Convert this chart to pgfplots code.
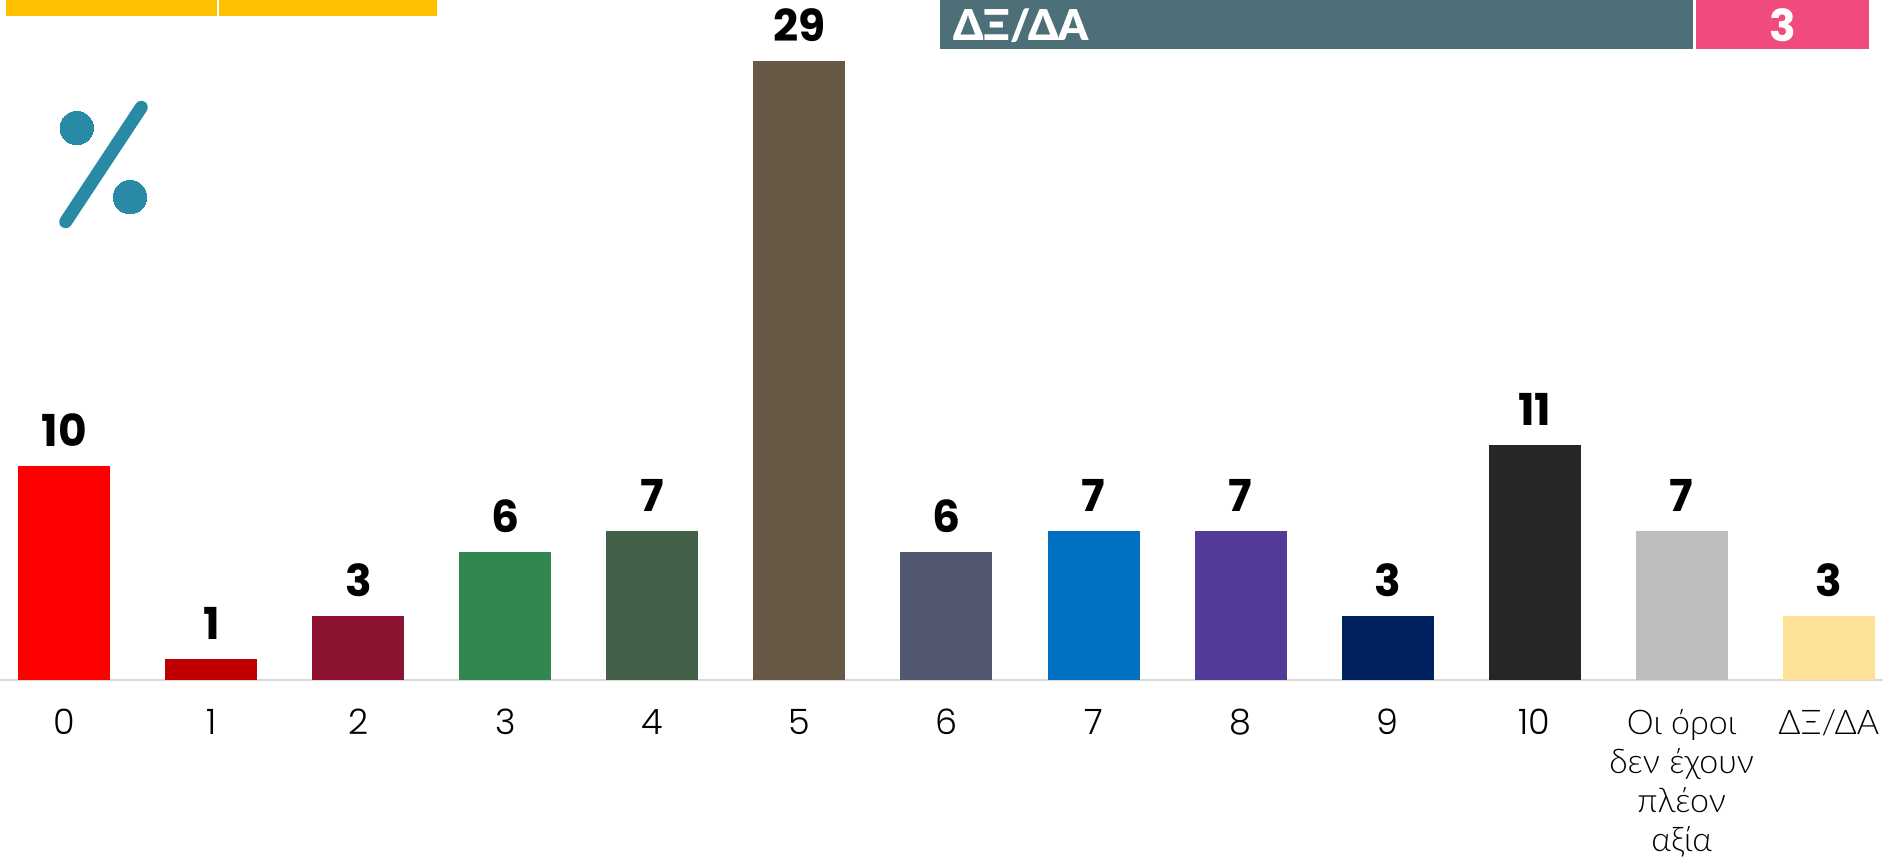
\documentclass[border=0pt]{standalone}
\usepackage{fontspec}
\usepackage{pgfplots}
\pgfplotsset{compat=1.18}
\setmainfont{Lato}
\newfontfamily\popb{Poppins}[UprightFont=* Bold]
\newfontfamily\popl{Poppins}[UprightFont=* Light]
\newfontfamily\latl{Lato}[UprightFont=* Light]
\newfontfamily\latb{Lato}[UprightFont=* Black]
\definecolor{c0}{HTML}{FF0000}
\definecolor{c1}{HTML}{C00000}
\definecolor{c2}{HTML}{8C1430}
\definecolor{c3}{HTML}{328750}
\definecolor{c4}{HTML}{456049}
\definecolor{c5}{HTML}{665A47}
\definecolor{c6}{HTML}{525770}
\definecolor{c7}{HTML}{0070C0}
\definecolor{c8}{HTML}{533998}
\definecolor{c9}{HTML}{002060}
\definecolor{c10}{HTML}{262626}
\definecolor{c11}{HTML}{BDBDBD}
\definecolor{c12}{HTML}{FDE197}
\definecolor{hy}{HTML}{FFC000}
\definecolor{ht}{HTML}{4C6F78}
\definecolor{hp}{HTML}{F14A7C}
\definecolor{pc}{HTML}{288AA5}
\definecolor{axl}{HTML}{D9D9D9}
\pgfplotsset{onebar/.style={ybar,bar shift=0pt,bar width=92pt,draw=none,fill=#1}}
\begin{document}
\begin{tikzpicture}[x=1pt,y=1pt]
\useasboundingbox (0,0) rectangle (1883,865);
\begin{axis}[
  at={(0pt,185pt)},anchor=south west,scale only axis,
  width=1883pt,height=661.85pt,
  xmin=-0.4373,xmax=12.3696,ymin=0,ymax=31,
  axis x line=bottom,axis y line=none,
  axis line style={draw=axl,line width=2pt,-},
  xtick={0,1,2,3,4,5,6,7,8,9,10,11,12},
  xticklabels={{\popl\fontsize{35}{39}\selectfont 0},{\popl\fontsize{35}{39}\selectfont 1},{\popl\fontsize{35}{39}\selectfont 2},{\popl\fontsize{35}{39}\selectfont 3},{\popl\fontsize{35}{39}\selectfont 4},{\popl\fontsize{35}{39}\selectfont 5},{\popl\fontsize{35}{39}\selectfont 6},{\popl\fontsize{35}{39}\selectfont 7},{\popl\fontsize{35}{39}\selectfont 8},{\popl\fontsize{35}{39}\selectfont 9},{\popl\fontsize{35}{39}\selectfont 10},{Οι όροι\\δεν έχουν\\πλέον\\αξία},{ΔΞ/ΔΑ}},
  major tick length=0pt,
  xticklabel style={font=\latl\fontsize{34}{39}\selectfont,align=center,anchor=north,inner sep=0pt,yshift=-27pt},
  typeset ticklabels with strut,
  nodes near coords={\popb\fontsize{44}{44}\selectfont\pgfmathprintnumber{\pgfplotspointmeta}},
  /pgf/number format/assume math mode=true,
  every node near coord/.append style={anchor=base,inner sep=0pt,yshift=19.5pt},
  clip=false,
]
\addplot[onebar=c0] coordinates {(0,10)};
\addplot[onebar=c1] coordinates {(1,1)};
\addplot[onebar=c2] coordinates {(2,3)};
\addplot[onebar=c3] coordinates {(3,6)};
\addplot[onebar=c4] coordinates {(4,7)};
\addplot[onebar=c5] coordinates {(5,29)};
\addplot[onebar=c6] coordinates {(6,6)};
\addplot[onebar=c7] coordinates {(7,7)};
\addplot[onebar=c8] coordinates {(8,7)};
\addplot[onebar=c9] coordinates {(9,3)};
\addplot[onebar=c10] coordinates {(10,11)};
\addplot[onebar=c11] coordinates {(11,7)};
\addplot[onebar=c12] coordinates {(12,3)};
\end{axis}
\begin{axis}[
  at={(0pt,0pt)},anchor=south west,scale only axis,
  width=1883pt,height=865pt,
  xmin=0,xmax=1883,ymin=0,ymax=865,y dir=reverse,
  hide axis,clip=false,
]
\addplot[fill=hy,draw=none] coordinates {(6,0)(216.5,0)(216.5,16)(6,16)} --cycle;
\addplot[fill=hy,draw=none] coordinates {(219,0)(437,0)(437,16)(219,16)} --cycle;
\addplot[fill=ht,draw=none] coordinates {(940,0)(1693,0)(1693,49)(940,49)} --cycle;
\addplot[fill=hp,draw=none] coordinates {(1696,0)(1869,0)(1869,49)(1696,49)} --cycle;
\addplot[draw=pc,line width=13pt,line cap=round] coordinates {(65.7,221.7)(141.3,107.3)};
\addplot[only marks,mark=*,mark size=16.7pt,draw=pc,fill=pc,mark options={draw=pc,fill=pc,line width=0pt}] coordinates {(76.7,128)(130,197)};
\node[anchor=base west,inner sep=0pt,text=white] at (axis cs:953,41) {\latb\fontsize{42.5}{42.5}\selectfont ΔΞ/ΔΑ};
\node[anchor=base,inner sep=0pt,text=white] at (axis cs:1783,42) {\popb\fontsize{44}{44}\selectfont 3};
\end{axis}
\end{tikzpicture}
\end{document}
